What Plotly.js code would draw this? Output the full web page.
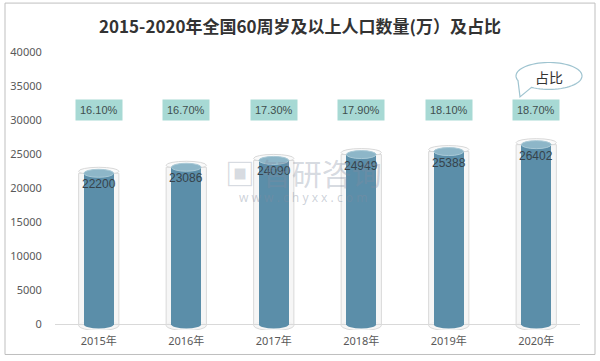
<!DOCTYPE html>
<html>
<head>
<meta charset="utf-8">
<script src="https://cdn.plot.ly/plotly-3.0.1.min.js"></script>
<style>html,body{margin:0;padding:0;background:#fff;}#chart{width:600px;height:361px;}</style>
</head>
<body>
<div id="chart"></div>
<script>
const categories = ['2015年', '2016年', '2017年', '2018年', '2019年', '2020年'];
const population = [22200, 23086, 24090, 24949, 25388, 26402];
const shareValues = [16.1, 16.7, 17.3, 17.9, 18.1, 18.7];
const yTicks = [0, 5000, 10000, 15000, 20000, 25000, 30000, 35000, 40000];

const W = 600, H = 361;
const ML = 55, MR = 20, MT = 52;
const yMin = -800, yMax = 40000;
const pxPerUnit = 273 / 40000;
const plotH = (yMax - yMin) * pxPerUnit;
const MB = H - MT - plotH;
const plotW = W - ML - MR;
const u = 1 / pxPerUnit; // data units per pixel

const glassW = 0.46, blueW = 0.34;
const blue = '#5b8ea9', blueCap = '#8db6c8';
const glassFill = 'rgba(244,244,244,0.85)', glassLine = '#d9d9d9';

const shapes = [];
population.forEach((v, i) => {
  shapes.push({type:'circle', xref:'x', yref:'y', layer:'below', x0:i-glassW/2, x1:i+glassW/2, y0:-6*u, y1:4*u, fillcolor:glassFill, line:{color:glassLine, width:1}});
  shapes.push({type:'circle', xref:'x', yref:'y', layer:'below', x0:i-glassW/2, x1:i+glassW/2, y0:v-2*u, y1:v+6*u, fillcolor:'rgba(250,250,250,0.9)', line:{color:glassLine, width:1}});
  shapes.push({type:'circle', xref:'x', yref:'y', layer:'above', x0:i-blueW/2, x1:i+blueW/2, y0:-4*u, y1:4*u, fillcolor:blue, line:{width:0}});
  shapes.push({type:'circle', xref:'x', yref:'y', layer:'above', x0:i-blueW/2, x1:i+blueW/2, y0:v-4*u, y1:v+4*u, fillcolor:blueCap, line:{color:'#a9c9d6', width:1}});
});

const toPX = px => (px - ML) / plotW;
const toPY = py => (MT + plotH - py) / plotH;
shapes.push({type:'rect', xref:'paper', yref:'paper', x0:toPX(5), x1:toPX(595), y0:toPY(355), y1:toPY(3), line:{color:'#bfbfbf', width:1}, fillcolor:'rgba(0,0,0,0)', layer:'below'});

// speech bubble
(function(){
  const cx = 549, cy = 76, rx = 33, ry = 13.5;
  const a0 = 200 * Math.PI/180, a1 = 238 * Math.PI/180;
  let path = '';
  const N = 60;
  for (let k = 0; k <= N; k++) {
    const a = a1 + (2*Math.PI - (a1 - a0)) * k / N;
    const x = cx + rx * Math.cos(a), y = cy - ry * Math.sin(a);
    path += (k === 0 ? 'M' : 'L') + toPX(x).toFixed(5) + ',' + toPY(y).toFixed(5) + ' ';
  }
  path += 'L' + toPX(520).toFixed(5) + ',' + toPY(97).toFixed(5) + ' Z';
  shapes.push({type:'path', xref:'paper', yref:'paper', path:path, fillcolor:'#ffffff', line:{color:'#9fc4d0', width:1.2}, layer:'above'});
})();

const labelFont = 'Liberation Sans Narrow, Liberation Sans, Noto Sans';
const annotations = shareValues.map((s, i) => ({
  x: categories[i], y: 31500, xref:'x', yref:'y', xanchor:'center', yanchor:'middle',
  text: s.toFixed(2) + '%', showarrow:false,
  bgcolor:'#a7d9d4', borderpad:4,
  font:{size:11, color:'#3f4f4f', family:'Liberation Sans, Noto Sans'}
}));
population.forEach((v, i) => annotations.push({
  x: categories[i], y: v, xref:'x', yref:'y', xanchor:'center', yanchor:'middle', yshift:-11,
  text: String(v), showarrow:false,
  font:{size:12, color:'#36434c', family:labelFont}
}));
annotations.push({xref:'paper', yref:'paper', x:toPX(549), y:toPY(77), xanchor:'center', yanchor:'middle', text:'占比', showarrow:false, font:{size:14, color:'#333333', family:'Noto Sans CJK SC'}});
annotations.push({xref:'paper', yref:'paper', x:toPX(303), y:toPY(172), xanchor:'center', yanchor:'middle', text:'<b>▣</b> 智研咨询', showarrow:false, font:{size:30, color:'rgba(130,140,160,0.33)', family:'Noto Sans CJK SC'}});
annotations.push({xref:'paper', yref:'paper', x:toPX(303), y:toPY(198), xanchor:'center', yanchor:'middle', text:'w w w . c h y x x . c o m', showarrow:false, font:{size:12, color:'rgba(130,140,160,0.4)', family:'Noto Sans'}});

const traces = [
  {type:'bar', x:categories, y:population, width:glassW, marker:{color:glassFill, line:{color:glassLine, width:1}}, hoverinfo:'skip', showlegend:false},
  {type:'bar', x:categories, y:population, width:blueW, marker:{color:blue, line:{width:0}}, showlegend:false}
];

const layout = {
  width:W, height:H,
  margin:{l:ML, r:MR, t:MT, b:MB, pad:0},
  paper_bgcolor:'#ffffff', plot_bgcolor:'rgba(0,0,0,0)',
  barmode:'overlay', bargap:0,
  font:{family:'Noto Sans, Noto Sans CJK SC', color:'#595959'},
  title:{text:'<b>2015-2020年全国60周岁及以上人口数量(万）及占比</b>', x:0.5, xref:'container', xanchor:'center', y:1-27/H, yref:'container', yanchor:'middle',
         font:{size:17, color:'#333333', family:'Noto Sans CJK SC'}},
  xaxis:{type:'category', showgrid:false, showline:false, zeroline:false, ticks:'outside', ticklen:1, tickcolor:'rgba(0,0,0,0)',
         tickfont:{size:11, color:'#595959', family:'Noto Sans, Noto Sans CJK SC'}, range:[-0.5, 5.5], fixedrange:true},
  yaxis:{range:[yMin, yMax], tickvals:yTicks, ticktext:yTicks.map(String), showgrid:false, showline:false,
         zeroline:true, zerolinecolor:'#d9d9d9', zerolinewidth:1,
         ticks:'outside', ticklen:10, tickcolor:'rgba(0,0,0,0)', tickfont:{size:11, color:'#595959', family:'Noto Sans'}},
  shapes:shapes, annotations:annotations
};

Plotly.newPlot('chart', traces, layout, {displayModeBar:false, staticPlot:true});
</script>
</body>
</html>
